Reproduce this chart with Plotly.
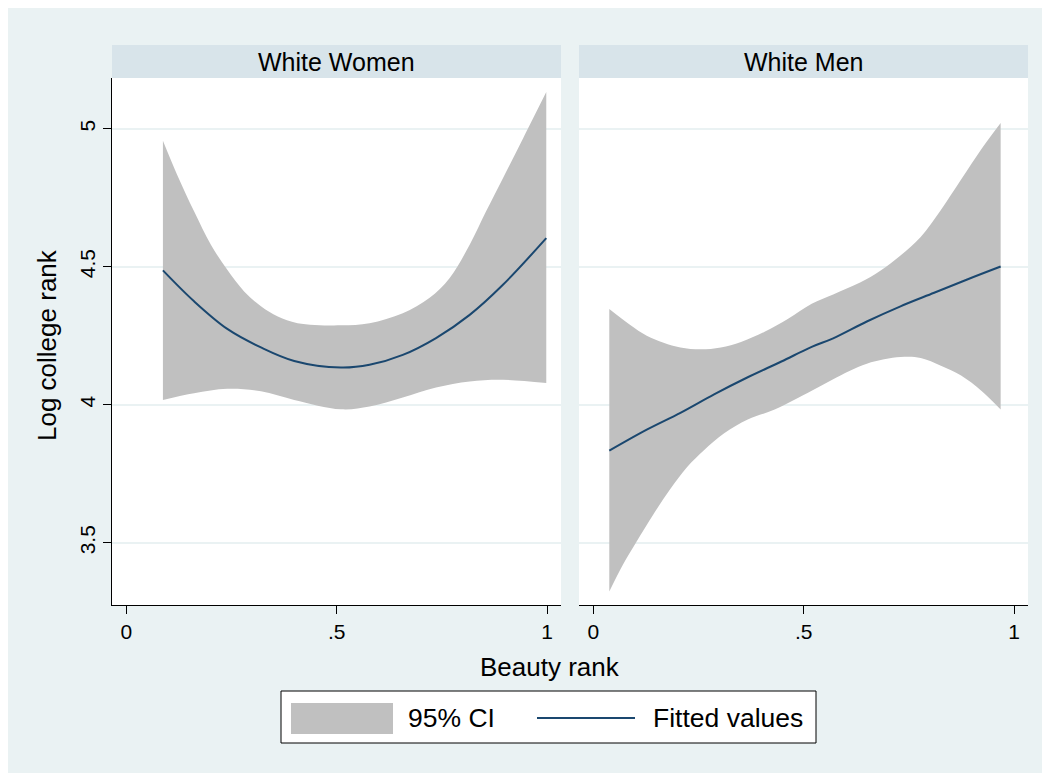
import plotly.graph_objects as go

# ---------------- data ----------------
panels = ["White Women", "White Men"]

# White Women
women_fit_x = [0.087, 0.161, 0.240, 0.320, 0.399, 0.510, 0.578, 0.657, 0.736, 0.816, 0.895, 0.998]
women_fit_y = [4.487, 4.375, 4.275, 4.208, 4.159, 4.135, 4.145, 4.181, 4.242, 4.326, 4.435, 4.604]
women_up_x = [0.087, 0.121, 0.161, 0.201, 0.240, 0.280, 0.320, 0.360, 0.407, 0.510, 0.578, 0.657, 0.720, 0.768, 0.816, 0.855, 0.895, 0.943, 0.998]
women_up_y = [4.957, 4.833, 4.701, 4.580, 4.489, 4.411, 4.357, 4.320, 4.296, 4.288, 4.296, 4.332, 4.387, 4.459, 4.580, 4.701, 4.821, 4.966, 5.133]
women_lo_x = [0.087, 0.161, 0.240, 0.320, 0.399, 0.510, 0.578, 0.657, 0.736, 0.816, 0.895, 0.998]
women_lo_y = [4.018, 4.042, 4.058, 4.049, 4.018, 3.984, 3.994, 4.027, 4.063, 4.085, 4.091, 4.079]

# White Men
men_fit_x = [0.038, 0.127, 0.207, 0.287, 0.367, 0.447, 0.519, 0.570, 0.650, 0.730, 0.810, 0.890, 0.968]
men_fit_y = [3.834, 3.910, 3.971, 4.038, 4.100, 4.157, 4.210, 4.241, 4.302, 4.357, 4.406, 4.455, 4.501]
men_up_x = [0.038, 0.087, 0.127, 0.167, 0.207, 0.255, 0.303, 0.351, 0.407, 0.463, 0.519, 0.570, 0.634, 0.682, 0.730, 0.778, 0.826, 0.874, 0.922, 0.968]
men_up_y = [4.347, 4.290, 4.250, 4.225, 4.208, 4.201, 4.208, 4.228, 4.265, 4.312, 4.366, 4.400, 4.443, 4.486, 4.541, 4.608, 4.706, 4.816, 4.926, 5.021]
men_lo_x = [0.038, 0.070, 0.103, 0.143, 0.183, 0.223, 0.263, 0.311, 0.367, 0.431, 0.519, 0.570, 0.650, 0.730, 0.778, 0.826, 0.874, 0.922, 0.968]
men_lo_y = [3.324, 3.420, 3.505, 3.604, 3.695, 3.775, 3.836, 3.897, 3.947, 3.983, 4.051, 4.093, 4.149, 4.173, 4.170, 4.142, 4.106, 4.051, 3.983]

x_tickvals = [0, 0.5, 1]
x_ticktext = ["0", ".5", "1"]
y_tickvals = [3.5, 4, 4.5, 5]
y_ticktext = ["3.5", "4", "4.5", "5"]

legend_labels = ["95% CI", "Fitted values"]

# ---------------- style ----------------
BG = "#EAF2F3"
HEAD = "#D8E4EA"
CI_COL = "#C0C0C0"
LINE_COL = "#1A476F"
FONT = "Arial, Liberation Sans, sans-serif"
SMOOTH = 1.0

W, H = 1050, 773
OFF = 8  # page body margin: screen coords = figure coords + OFF
# plot-area edges in screen coordinates
SL, SR, ST, SB = 112, 1028, 78, 605
L, T = SL - OFF, ST - OFF
R = W - (SR - OFF)
B = H - (SB - OFF)
PW, PH = SR - SL, SB - ST


def px_x(p):
    return (p - SL) / PW


def px_y(p):
    return (SB - p) / PH


fig = go.Figure()

series = [
    (women_fit_x, women_fit_y, women_up_x, women_up_y, women_lo_x, women_lo_y),
    (men_fit_x, men_fit_y, men_up_x, men_up_y, men_lo_x, men_lo_y),
]

for i, (fx, fy, ux, uy, lx, ly) in enumerate(series):
    xa = "x" if i == 0 else "x2"
    ya = "y" if i == 0 else "y2"
    fig.add_trace(go.Scatter(
        x=lx, y=ly, mode="lines", line=dict(width=0, color=CI_COL, shape="spline", smoothing=SMOOTH),
        showlegend=False, xaxis=xa, yaxis=ya, hoverinfo="skip"))
    fig.add_trace(go.Scatter(
        x=ux, y=uy, mode="lines", fill="tonexty", fillcolor=CI_COL,
        line=dict(width=0, color=CI_COL, shape="spline", smoothing=SMOOTH),
        name=legend_labels[0], showlegend=False, xaxis=xa, yaxis=ya, hoverinfo="skip"))
    fig.add_trace(go.Scatter(
        x=fx, y=fy, mode="lines", line=dict(color=LINE_COL, width=2, shape="spline", smoothing=SMOOTH),
        name=legend_labels[1], showlegend=False, xaxis=xa, yaxis=ya))

left_dom = [0, (561 - SL) / PW]
right_dom = [(579 - SL) / PW, 1]

xaxis_common = dict(range=[-0.034, 1.033], tickvals=x_tickvals, ticktext=x_ticktext,
                    showgrid=False, zeroline=False, showline=True, linecolor="black", linewidth=1,
                    ticks="outside", ticklen=8, tickcolor="black", tickwidth=1,
                    tickfont=dict(family=FONT, size=21, color="black"))
yaxis_common = dict(range=[3.275, 5.184], tickvals=y_tickvals, ticktext=y_ticktext,
                    showgrid=True, gridcolor=BG, gridwidth=1.5, zeroline=False)

fig.update_layout(
    width=W, height=H,
    margin=dict(l=L, r=R, t=T, b=B),
    paper_bgcolor=BG, plot_bgcolor="white",
    font=dict(family=FONT, color="black"),
    xaxis=dict(domain=left_dom, anchor="y", **xaxis_common),
    xaxis2=dict(domain=right_dom, anchor="y2", **xaxis_common),
    yaxis=dict(domain=[0, 1], anchor="x", showline=True, linecolor="black", linewidth=1,
               ticks="outside", ticklen=8, tickcolor="black", tickwidth=1, tickangle=-90,
               tickfont=dict(family=FONT, size=21, color="black"), **yaxis_common),
    yaxis2=dict(domain=[0, 1], anchor="x2", showline=False, showticklabels=False, ticks="",
                **yaxis_common),
    showlegend=False,
)

shapes = []
annotations = []
# facet header boxes
for dom, label in zip([left_dom, right_dom], panels):
    shapes.append(dict(type="rect", xref="paper", yref="paper", x0=dom[0], x1=dom[1],
                       y0=px_y(78), y1=px_y(45), fillcolor=HEAD, line=dict(width=0)))
    annotations.append(dict(text=label, xref="paper", yref="paper", x=(dom[0] + dom[1]) / 2,
                            y=px_y(61.5), xanchor="center", yanchor="middle", showarrow=False,
                            font=dict(family=FONT, size=25, color="black")))

annotations.append(dict(text="Log college rank", xref="paper", yref="paper", x=px_x(47), y=px_y(345),
                        xanchor="center", yanchor="middle", textangle=-90, showarrow=False,
                        font=dict(family=FONT, size=26, color="black")))
annotations.append(dict(text="Beauty rank", xref="paper", yref="paper", x=px_x(550), y=px_y(667),
                        xanchor="center", yanchor="middle", showarrow=False,
                        font=dict(family=FONT, size=26, color="black")))

# legend (drawn as key box)
shapes.append(dict(type="rect", xref="paper", yref="paper", x0=px_x(281), x1=px_x(816),
                   y0=px_y(743), y1=px_y(691), fillcolor="white", line=dict(color="black", width=1)))
shapes.append(dict(type="rect", xref="paper", yref="paper", x0=px_x(291), x1=px_x(393),
                   y0=px_y(734), y1=px_y(703), fillcolor=CI_COL, line=dict(width=0)))
shapes.append(dict(type="line", xref="paper", yref="paper", x0=px_x(537), x1=px_x(635),
                   y0=px_y(718), y1=px_y(718), line=dict(color=LINE_COL, width=2)))
annotations.append(dict(text=legend_labels[0], xref="paper", yref="paper", x=px_x(406), y=px_y(718),
                        xanchor="left", yanchor="middle", showarrow=False,
                        font=dict(family=FONT, size=26.5, color="black")))
annotations.append(dict(text=legend_labels[1], xref="paper", yref="paper", x=px_x(651), y=px_y(718),
                        xanchor="left", yanchor="middle", showarrow=False,
                        font=dict(family=FONT, size=26.5, color="black")))

fig.update_layout(shapes=shapes, annotations=annotations)

fig.write_html("out.html")
